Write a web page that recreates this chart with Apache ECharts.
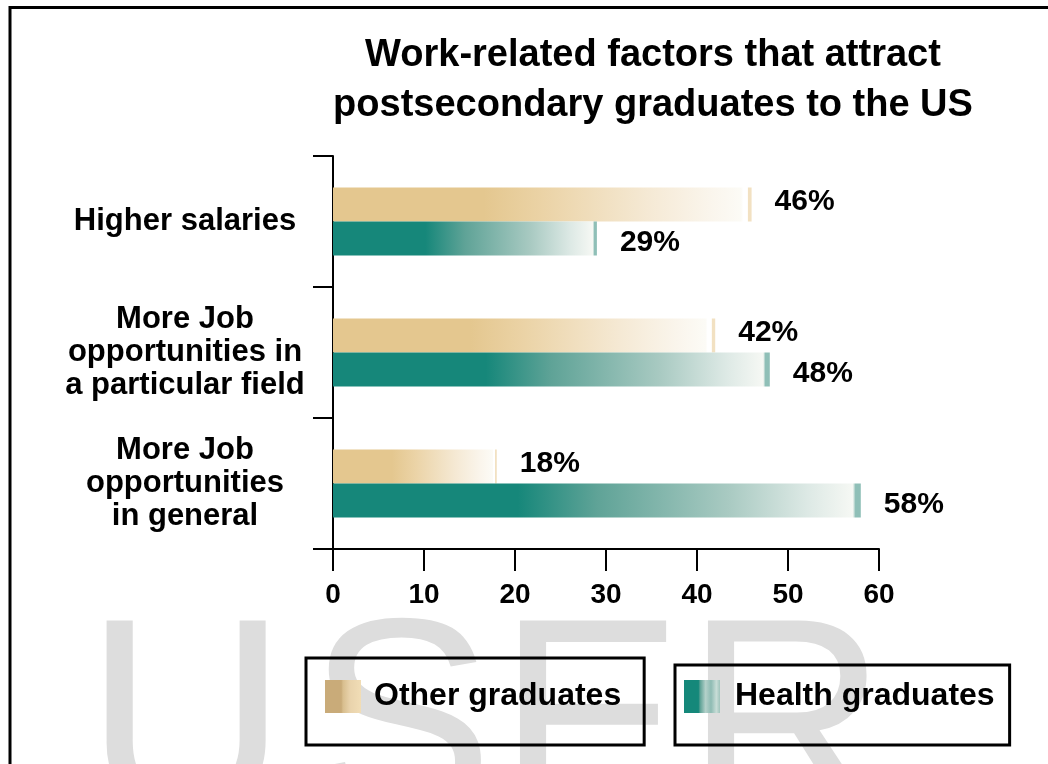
<!DOCTYPE html>
<html>
<head>
<meta charset="utf-8">
<title>Work-related factors that attract postsecondary graduates to the US</title>
<script src="https://cdn.jsdelivr.net/npm/echarts@6/dist/echarts.min.js"></script>
<style>
  html, body { margin: 0; padding: 0; background: #fff; }
  #chart { width: 1048px; height: 764px; }
</style>
</head>
<body>
<div id="chart"></div>
<script>
// data
const categories = [
  "Higher salaries",
  "More Job\nopportunities in\na particular field",
  "More Job\nopportunities\nin general",
];
const otherGraduates = [46, 42, 18];
const healthGraduates = [29, 48, 58];
const xMin = 0;
const xMax = 60;
const xStep = 10;
const watermarkLetters = ["U", "S", "E", "R"];

const font = "'Liberation Sans', Arial, sans-serif";

const grad = (stops) =>
  new echarts.graphic.LinearGradient(0, 0, 1, 0,
    stops.map(([offset, color]) => ({ offset, color })));

// bars fade from solid colour to almost white, with a thin line at the end
const tanBar = grad([
  [0, "#E4C78F"], [0.36, "#E4C78F"], [0.5, "#EBD3A6"], [0.75, "#F5E9D4"],
  [0.9, "#FAF5EC"], [0.975, "#FCFBF6"], [0.98, "#FFFFFF"], [0.99, "#FFFFFF"],
  [0.992, "#F2E1C2"], [1, "#F2E1C2"],
]);
const tealBar = grad([
  [0, "#16877A"], [0.35, "#16877A"], [0.5, "#5FA397"], [0.75, "#A9CAC2"],
  [0.9, "#DDE9E5"], [0.985, "#F6F8F4"], [0.99, "#8FBFB7"], [1, "#8FBFB7"],
]);
const tanIcon = grad([
  [0, "#C9AB79"], [0.45, "#C9AB79"], [0.5, "#D8BE8E"], [0.7, "#E9D3AC"], [1, "#F1DDB6"],
]);
const tealIcon = grad([
  [0, "#15887A"], [0.4, "#15887A"], [0.45, "#5EA296"], [0.6, "#B4D1CA"],
  [0.75, "#8EBBB3"], [0.9, "#C8DDD7"], [1, "#A0C4BC"],
]);

const chart = echarts.init(document.getElementById("chart"), null, { renderer: "canvas" });

const valueLabel = (dy) => ({
  show: true,
  position: "right",
  distance: 23,
  offset: [0, dy],
  formatter: "{c}%",
  color: "#000",
  fontFamily: font,
  fontWeight: "bold",
  fontSize: 30,
});

const legendBox = {
  orient: "horizontal",
  borderColor: "#000",
  borderWidth: 3,
  borderRadius: 0,
  icon: "rect",
  itemWidth: 36,
  itemHeight: 33,
  selectedMode: false,
  textStyle: {
    color: "#000",
    fontFamily: font,
    fontWeight: "bold",
    fontSize: 32,
  },
};

const option = {
  backgroundColor: "#fff",
  animation: false,
  title: {
    text: "Work-related factors that attract\npostsecondary graduates to the US",
    left: 648,
    top: 26,
    textAlign: "center",
    textStyle: {
      color: "#000",
      fontFamily: font,
      fontWeight: "bold",
      fontSize: 38,
      lineHeight: 50,
    },
  },
  grid: {
    left: 333,
    right: 169,
    top: 156,
    bottom: 215,
    containLabel: false,
  },
  xAxis: {
    type: "value",
    min: xMin,
    max: xMax,
    interval: xStep,
    axisLine: { show: true, lineStyle: { color: "#000", width: 2 } },
    axisTick: { show: true, length: 22, lineStyle: { color: "#000", width: 2 } },
    axisLabel: {
      color: "#000",
      fontFamily: font,
      fontWeight: "bold",
      fontSize: 28,
      margin: 32,
    },
    splitLine: { show: false },
  },
  yAxis: {
    type: "category",
    data: categories,
    inverse: true,
    axisLine: { show: true, lineStyle: { color: "#000", width: 2 } },
    axisTick: { show: true, length: 20, lineStyle: { color: "#000", width: 2 } },
    axisLabel: {
      color: "#000",
      fontFamily: font,
      fontWeight: "bold",
      fontSize: 31,
      lineHeight: 33,
      align: "center",
      margin: 148,
      padding: [0, 0, 8, 0],
    },
  },
  legend: [
    Object.assign({}, legendBox, {
      left: 306,
      top: 658,
      padding: [22, 23, 32, 19],
      data: [{ name: "Other graduates", itemStyle: { color: tanIcon } }],
      textStyle: Object.assign({}, legendBox.textStyle, { padding: [0, 0, 0, 8] }),
    }),
    Object.assign({}, legendBox, {
      left: 675,
      top: 665,
      padding: [15, 15, 32, 9],
      data: [{ name: "Health graduates", itemStyle: { color: tealIcon } }],
      textStyle: Object.assign({}, legendBox.textStyle, { padding: [0, 0, 0, 10] }),
    }),
  ],
  series: [
    {
      name: "Other graduates",
      type: "bar",
      data: otherGraduates,
      barWidth: 34,
      barGap: "0%",
      itemStyle: { color: tanBar },
      label: valueLabel(-3),
    },
    {
      name: "Health graduates",
      type: "bar",
      data: healthGraduates,
      barWidth: 34,
      barGap: "0%",
      itemStyle: { color: tealBar },
      label: valueLabel(4),
    },
  ],
  graphic: [
    // frame, right and bottom edges run off the page
    {
      type: "rect",
      z: -50,
      shape: { x: 10, y: 7.5, width: 1100, height: 900 },
      style: { fill: null, stroke: "#000", lineWidth: 3 },
    },
  ].concat(
    // big grey watermark behind the legend
    watermarkLetters.map((ch, i) => ({
      type: "text",
      z: -100,
      x: [85, 307, 497, 685][i],
      y: 596,
      style: {
        text: ch,
        fill: "#DDDDDD",
        font: "280px 'Liberation Sans', Arial, sans-serif",
        textVerticalAlign: "top",
      },
    }))
  ),
};

chart.setOption(option);

window.addEventListener("resize", () => {
  chart.resize();
});
</script>
</body>
</html>
